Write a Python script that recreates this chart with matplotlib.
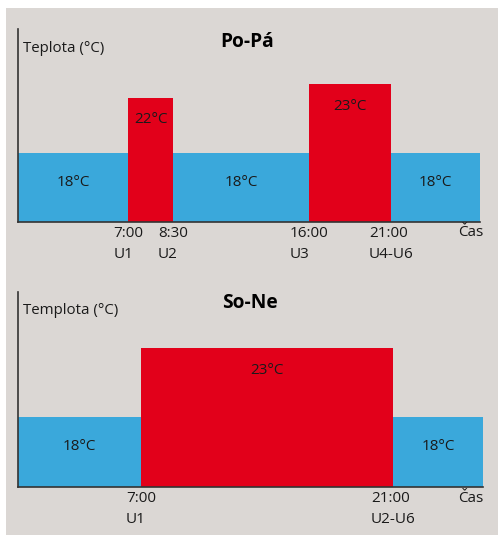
"""Časový program vytápění — Po-Pá / So-Ne (schematický graf)."""
import matplotlib
matplotlib.use("Agg")
import matplotlib.pyplot as plt
from matplotlib.patches import Rectangle

# Data
# hranice úseků na schematické ose (0..100), teploty úseků
top_edges = [0, 23.9, 33.6, 63.0, 80.8, 100]
top_temps = [18, 22, 18, 23, 18]
top_ticks = [23.9, 33.6, 63.0, 80.8]
top_ticklabels = ["7:00\nU1", "8:30\nU2", "16:00\nU3", "21:00\nU4-U6"]

bot_edges = [0, 26.5, 80.7, 100]
bot_temps = [18, 23, 18]
bot_ticks = [26.5, 80.7]
bot_ticklabels = ["7:00\nU1", "21:00\nU2-U6"]

T_BASE = 13
T_TOP = 27.0

BLUE = "#3aa8db"
RED = "#e2001a"
BG = "#dbd7d4"
TXT = "#1a1a1a"
FONT = ["Open Sans", "DejaVu Sans"]

W, H = 500, 537
plt.rcParams["font.family"] = FONT


def px(x, y):
    return x / W, 1 - y / H


def draw_panel(ax, edges, temps, ticks, ticklabels):
    for i, t in enumerate(temps):
        x0, x1 = edges[i], edges[i + 1]
        col = RED if t > 18 else BLUE
        ax.bar(x0, t - T_BASE, width=x1 - x0, bottom=T_BASE, align="edge",
               color=col, linewidth=0, zorder=1)
        ly = T_BASE + 2.9 if t == 18 else t - 1.6
        ax.text((x0 + x1) / 2, ly, f"{t}°C", ha="center", va="center",
                fontsize=11, color=TXT, zorder=2)
    ax.set_xlim(edges[0], edges[-1])
    ax.set_ylim(T_BASE, T_TOP)
    ax.set_facecolor("none")
    for s in ["top", "right"]:
        ax.spines[s].set_visible(False)
    for s in ["left", "bottom"]:
        ax.spines[s].set_color("#333333")
        ax.spines[s].set_linewidth(1.2)
        ax.spines[s].set_zorder(3)
    ax.set_yticks([])
    ax.set_xticks(ticks)
    ax.set_xticklabels(ticklabels, fontsize=11, color=TXT,
                       multialignment="left", linespacing=1.5)
    ax.tick_params(axis="x", length=0, pad=3)


fig = plt.figure(figsize=(W / 100, H / 100), dpi=100)
fig.patch.set_facecolor("white")
fig.patches.append(Rectangle(px(6, 535), (498 - 6) / W, (535 - 8) / H,
                             transform=fig.transFigure, facecolor=BG,
                             edgecolor="none", zorder=-10))

ax1 = fig.add_axes([17.7 / W, 1 - 222 / H, (480 - 17.7) / W, 193 / H])
draw_panel(ax1, top_edges, top_temps, top_ticks, top_ticklabels)
ax2 = fig.add_axes([17.7 / W, 1 - 487 / H, (483 - 17.7) / W, 195 / H])
draw_panel(ax2, bot_edges, bot_temps, bot_ticks, bot_ticklabels)

fig.text(*px(23, 48), "Teplota (°C)", ha="left", va="center", fontsize=10.8, color=TXT)
fig.text(*px(247, 42), "Po-Pá", ha="center", va="center", fontsize=13.8,
         fontweight="bold", color="black")
fig.text(*px(458, 232), "Čas", ha="left", va="center", fontsize=11, color=TXT)

fig.text(*px(23, 310), "Templota (°C)", ha="left", va="center", fontsize=10.8, color=TXT)
fig.text(*px(250, 303), "So-Ne", ha="center", va="center", fontsize=13.8,
         fontweight="bold", color="black")
fig.text(*px(458, 498), "Čas", ha="left", va="center", fontsize=11, color=TXT)

fig.savefig("out.png", dpi=100, facecolor=fig.get_facecolor())
